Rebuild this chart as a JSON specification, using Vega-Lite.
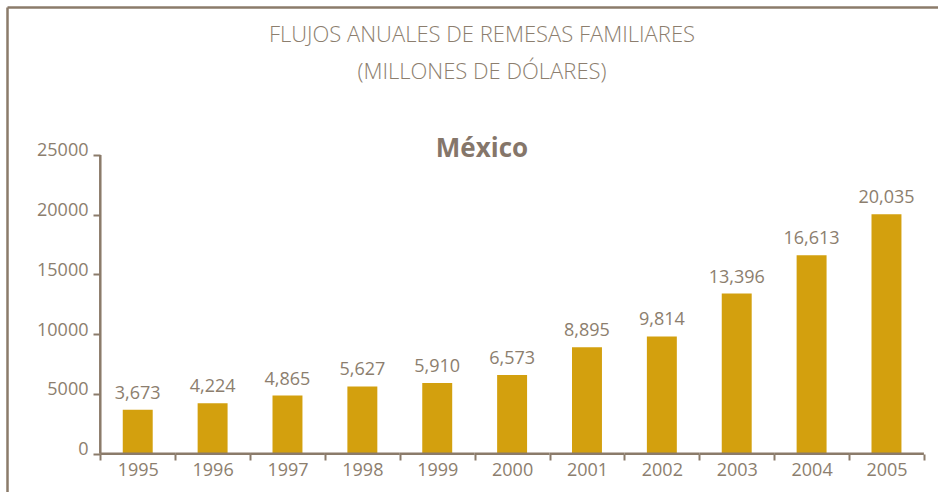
{
  "$schema": "https://vega.github.io/schema/vega-lite/v6.json",
  "autosize": {"type": "fit", "contains": "padding"},
  "width": 938,
  "height": 492,
  "padding": {"left": 7, "top": 7, "right": -15, "bottom": -15},
  "background": "white",
  "title": {
    "text": ["FLUJOS ANUALES DE REMESAS FAMILIARES", "(MILLONES DE DÓLARES)"],
    "subtitle": "México",
    "anchor": "middle",
    "frame": "group",
    "offset": -156,
    "dx": 2,
    "font": "Open Sans",
    "fontSize": 22,
    "fontWeight": 300,
    "color": "#8C7E6E",
    "lineHeight": 37,
    "subtitleFont": "Open Sans",
    "subtitleFontSize": 26,
    "subtitleFontWeight": "bold",
    "subtitleColor": "#85766A",
    "subtitlePadding": 52
  },
  "data": {
    "values": [
      {"year": "1995", "value": 3673},
      {"year": "1996", "value": 4224},
      {"year": "1997", "value": 4865},
      {"year": "1998", "value": 5627},
      {"year": "1999", "value": 5910},
      {"year": "2000", "value": 6573},
      {"year": "2001", "value": 8895},
      {"year": "2002", "value": 9814},
      {"year": "2003", "value": 13396},
      {"year": "2004", "value": 16613},
      {"year": "2005", "value": 20035}
    ]
  },
  "resolve": {"axis": {"x": "independent", "y": "independent"}},
  "layer": [
    {
      "mark": {"type": "bar", "color": "#D3A00E", "width": {"band": 0.4}},
      "encoding": {
        "x": {
          "field": "year", "type": "ordinal",
          "scale": {"paddingInner": 0, "paddingOuter": 0.8173, "align": 0.7623, "round": false},
          "axis": {
            "orient": "bottom", "offset": -53, "title": null, "domain": false,
            "tickBand": "extent", "tickSize": 6, "tickWidth": 2, "tickColor": "#8B7B6A",
            "labelAngle": 0, "labelFontSize": 18, "labelColor": "#8C7E6E", "labelPadding": 1,
            "labelFont": "Open Sans"
          }
        },
        "y": {
          "field": "value", "type": "quantitative",
          "scale": {"domain": [-4461.3, 37373.7], "nice": false, "zero": false},
          "axis": {
            "orient": "left", "offset": -93, "title": null, "domain": false, "grid": false,
            "values": [0, 5000, 10000, 15000, 20000, 25000], "format": "d",
            "tickSize": 7, "tickWidth": 2, "tickColor": "#8B7B6A",
            "labelFontSize": 18, "labelColor": "#8C7E6E", "labelPadding": 5,
            "labelBaseline": "alphabetic", "labelOffset": 1, "labelFont": "Open Sans"
          }
        }
      }
    },
    {
      "mark": {"type": "text", "dy": -11, "baseline": "alphabetic", "align": "center", "fontSize": 18, "font": "Open Sans", "color": "#8C7E6E"},
      "encoding": {
        "x": {
          "field": "year", "type": "ordinal",
          "axis": {"orient": "top", "offset": 0, "title": null, "domain": true, "domainColor": "#8B7B6A", "domainWidth": 2.5, "ticks": false, "labels": false, "grid": false}
        },
        "y": {
          "field": "value", "type": "quantitative",
          "axis": {"orient": "left", "offset": 0, "title": null, "domain": true, "domainColor": "#8B7B6A", "domainWidth": 2.5, "ticks": false, "labels": false, "grid": false}
        },
        "text": {"field": "value", "type": "quantitative", "format": ","}
      }
    },
    {
      "transform": [{"filter": "datum.year == '1995'"}],
      "mark": {"type": "rule", "color": "#8B7B6A", "strokeWidth": 2.5},
      "encoding": {
        "x": {"field": "year", "type": "ordinal", "bandPosition": 0,
          "axis": {"title": null, "domain": false, "ticks": false, "labels": false, "grid": false}},
        "y": {"datum": 0, "type": "quantitative",
          "axis": {"title": null, "domain": false, "ticks": false, "labels": false, "grid": false}},
        "y2": {"datum": 25000}
      }
    },
    {
      "mark": {"type": "rule", "color": "#8B7B6A", "strokeWidth": 2.5},
      "encoding": {
        "x": {"field": "year", "type": "ordinal", "bandPosition": 0,
          "axis": {"title": null, "domain": false, "ticks": false, "labels": false, "grid": false}},
        "x2": {"field": "year", "bandPosition": 1},
        "y": {"datum": 0, "type": "quantitative",
          "axis": {"title": null, "domain": false, "ticks": false, "labels": false, "grid": false}}
      }
    }
  ],
  "config": {
    "font": "Open Sans",
    "view": {"stroke": null, "fill": null}
  }
}
